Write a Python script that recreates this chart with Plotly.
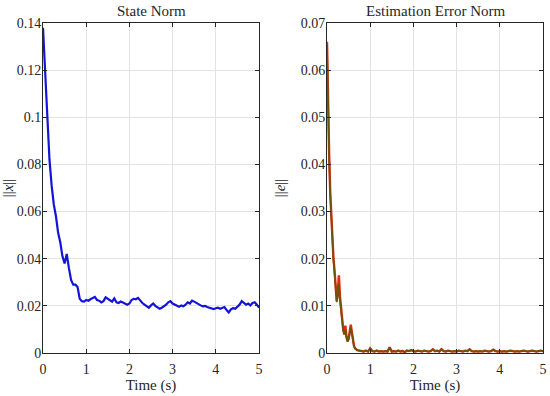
import plotly.graph_objects as go

# ---------------- data ----------------
t_state = [round(i * 0.05, 2) for i in range(101)]
x_norm = [
    0.138, 0.121, 0.100, 0.082, 0.071, 0.063, 0.058, 0.051, 0.047, 0.041,
    0.038, 0.042, 0.036, 0.031, 0.029, 0.029, 0.028, 0.023, 0.022, 0.0218,
    0.0225, 0.0222, 0.0228, 0.0232, 0.0238, 0.0225, 0.0222, 0.0215, 0.0220, 0.0236,
    0.0230, 0.0222, 0.0218, 0.0232, 0.0215, 0.0212, 0.0218, 0.0214, 0.0208, 0.0205,
    0.0210, 0.0225, 0.0230, 0.0228, 0.0234, 0.0222, 0.0212, 0.0205, 0.0198, 0.0192,
    0.0202, 0.0210, 0.0200, 0.0195, 0.0188, 0.0192, 0.0198, 0.0205, 0.0215, 0.0220,
    0.0210, 0.0205, 0.0198, 0.0196, 0.0202, 0.0198, 0.0205, 0.0215, 0.0210, 0.0222,
    0.0218, 0.0212, 0.0205, 0.0202, 0.0198, 0.0200, 0.0195, 0.0192, 0.0190, 0.0186,
    0.0190, 0.0192, 0.0188, 0.0192, 0.0195, 0.0182, 0.0172, 0.0185, 0.0190, 0.0188,
    0.0195, 0.0205, 0.0220, 0.0212, 0.0205, 0.0210, 0.0202, 0.0212, 0.0215, 0.0205,
    0.0192,
]

t_err = [0.0, 0.025, 0.05, 0.075, 0.1, 0.125, 0.15, 0.175, 0.2, 0.225,
         0.25, 0.275, 0.3, 0.325, 0.35, 0.375, 0.4, 0.425, 0.45, 0.475,
         0.5, 0.525, 0.55, 0.575, 0.6, 0.625, 0.65, 0.7, 0.75] + \
        [round(0.8 + i * 0.05, 2) for i in range(85)]
e_norm = [
    0.0660, 0.0520, 0.0420, 0.0340, 0.0280, 0.0230, 0.0200, 0.0175, 0.0140, 0.0110,
    0.0130, 0.0165, 0.0120, 0.0090, 0.0065, 0.0050, 0.0040, 0.0058, 0.0035, 0.0025,
    0.0030, 0.0050, 0.0060, 0.0045, 0.0025, 0.0015, 0.0010, 0.0006, 0.0005,
    # 0.80 ... 5.00
    0.0004, 0.0003, 0.0005, 0.0003, 0.0010, 0.0004, 0.0003, 0.0005, 0.0003, 0.0004,
    0.0003, 0.0004, 0.0003, 0.0012, 0.0003, 0.0004, 0.0003, 0.0005, 0.0003, 0.0004,
    0.0002, 0.0005, 0.0004, 0.0006, 0.0004, 0.0003, 0.0005, 0.0004, 0.0003, 0.0005,
    0.0004, 0.0003, 0.0004, 0.0008, 0.0004, 0.0005, 0.0003, 0.0008, 0.0004, 0.0003,
    0.0005, 0.0004, 0.0003, 0.0004, 0.0003, 0.0005, 0.0004, 0.0003, 0.0005, 0.0004,
    0.0008, 0.0004, 0.0003, 0.0004, 0.0003, 0.0004, 0.0003, 0.0005, 0.0004, 0.0003,
    0.0004, 0.0007, 0.0004, 0.0003, 0.0004, 0.0003, 0.0004, 0.0003, 0.0004, 0.0005,
    0.0004, 0.0003, 0.0004, 0.0003, 0.0004, 0.0005, 0.0004, 0.0003, 0.0004, 0.0005,
    0.0004, 0.0003, 0.0004, 0.0005, 0.0004,
]
e_norm_est = [
    0.0655, 0.0515, 0.0415, 0.0336, 0.0276, 0.0226, 0.0196, 0.0168, 0.0135, 0.0108,
    0.0120, 0.0145, 0.0112, 0.0086, 0.0062, 0.0048, 0.0039, 0.0050, 0.0033, 0.0024,
    0.0028, 0.0044, 0.0054, 0.0042, 0.0024, 0.0014, 0.0009, 0.0006, 0.0005,
] + e_norm[29:]

x_ticks = [0, 1, 2, 3, 4, 5]
y1_ticks = [0, 0.02, 0.04, 0.06, 0.08, 0.1, 0.12, 0.14]
y1_text = ["0", "0.02", "0.04", "0.06", "0.08", "0.1", "0.12", "0.14"]
y2_ticks = [0, 0.01, 0.02, 0.03, 0.04, 0.05, 0.06, 0.07]
y2_text = ["0", "0.01", "0.02", "0.03", "0.04", "0.05", "0.06", "0.07"]

titles = ["State Norm", "Estimation Error Norm"]
ylabels = ["||<i>x</i>||", "||<i>e</i>||"]
xlabel = "Time (s)"

# ---------------- figure ----------------
FONT = "Liberation Serif"
INK = "#262626"
fig = go.Figure()
fig.add_trace(go.Scatter(x=t_state, y=x_norm, mode="lines",
                         line=dict(color="#1414d8", width=2.2), xaxis="x", yaxis="y"))
fig.add_trace(go.Scatter(x=t_err, y=e_norm, mode="lines",
                         line=dict(color="#e02a10", width=2.4), xaxis="x2", yaxis="y2"))
fig.add_trace(go.Scatter(x=t_err, y=e_norm_est, mode="lines",
                         line=dict(color="#6a5508", width=1.6), xaxis="x2", yaxis="y2"))

axis_common = dict(
    showline=True, linecolor=INK, linewidth=1, mirror="ticks",
    ticks="inside", ticklen=4, tickcolor=INK,
    showgrid=True, gridcolor="#e3e3e3", gridwidth=1, zeroline=False,
    tickfont=dict(family=FONT, size=14, color=INK),
    automargin=False, ticklabeloverflow="allow",
)
ydom = [43 / 396, 373 / 396]
xtitle = dict(text=xlabel, font=dict(family=FONT, size=15, color=INK), standoff=2)

fig.update_layout(
    width=550, height=396,
    margin=dict(l=0, r=0, t=0, b=0, pad=0),
    paper_bgcolor="white", plot_bgcolor="white",
    showlegend=False,
    xaxis=dict(domain=[43 / 550, 259 / 550], range=[0, 5], tickvals=x_ticks,
               title=xtitle, anchor="y", ticklabelstandoff=3, **axis_common),
    yaxis=dict(domain=ydom, range=[0, 0.14], tickvals=y1_ticks, ticktext=y1_text,
               title=dict(text=ylabels[0], font=dict(family=FONT, size=15, color=INK), standoff=11),
               anchor="x", ticklabelstandoff=-2, **axis_common),
    xaxis2=dict(domain=[327 / 550, 543 / 550], range=[0, 5], tickvals=x_ticks,
                title=xtitle, anchor="y2", ticklabelstandoff=3, **axis_common),
    yaxis2=dict(domain=ydom, range=[0, 0.07], tickvals=y2_ticks, ticktext=y2_text,
                title=dict(text=ylabels[1], font=dict(family=FONT, size=15, color=INK), standoff=11),
                anchor="x2", ticklabelstandoff=-2, **axis_common),
    annotations=[
        dict(text=titles[0], x=(43 + 259) / 2 / 550, y=1 - 11 / 396, xref="paper", yref="paper",
             showarrow=False, xanchor="center", yanchor="middle",
             font=dict(family=FONT, size=15, color=INK)),
        dict(text=titles[1], x=(327 + 543) / 2 / 550, y=1 - 11 / 396, xref="paper", yref="paper",
             showarrow=False, xanchor="center", yanchor="middle",
             font=dict(family=FONT, size=15, color=INK)),
    ],
)

fig.write_html(
    "out.html",
    config={"displayModeBar": False},
    post_script="document.body.style.margin='0';document.body.style.padding='0';"
                "document.body.style.overflow='hidden';",
)
